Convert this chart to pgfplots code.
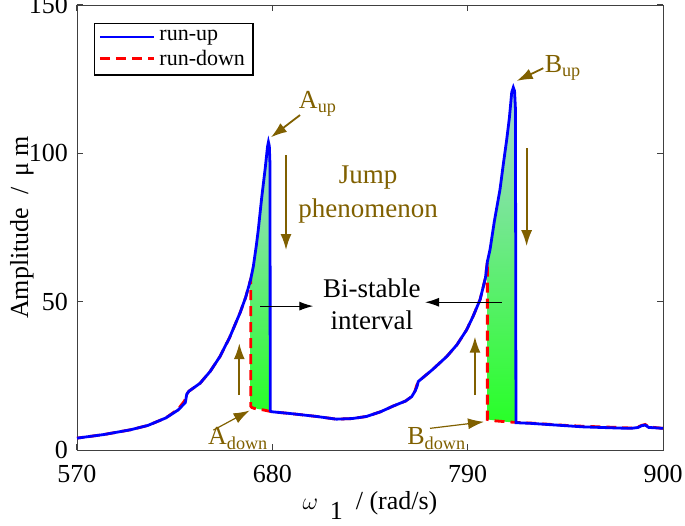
\documentclass[border=0pt]{standalone}
\usepackage{pgfplots}
\pgfplotsset{compat=1.18}
\usepackage{fontspec}
\setmainfont{Liberation Serif}
\usetikzlibrary{arrows.meta}
\definecolor{brn}{RGB}{128,96,0}
\definecolor{shtop}{RGB}{165,215,212}
\definecolor{shbot}{RGB}{40,255,40}
\begin{document}
\begin{tikzpicture}
\begin{axis}[
  scale only axis, width=293pt, height=222.5pt,
  xmin=570, xmax=900, ymin=0, ymax=150,
  xtick={570,680,790,900}, ytick={0,50,100,150},
  tick align=inside, major tick length=3pt,
  font=\fontsize{13}{15}\selectfont,
  /pgf/number format/assume math mode=true,
  axis line style={black!75}, every tick/.style={black!75, line width=0.5pt},
  xticklabel style={yshift=-4pt},
  yticklabel style={xshift=-1pt},
  xlabel={$\omega$\hspace{0.45em}\raisebox{-0.8ex}{1}\hspace{0.5em}/ (rad/s)},
  ylabel={Amplitude \ / \,μ m},
  every axis x label/.style={at={(axis description cs:0.5,-0.125)}, anchor=center},
  every axis y label/.style={at={(axis description cs:-0.094,0.5)}, rotate=90, anchor=center},
  legend style={at={(axis description cs:0.029,0.96)}, anchor=north west,
    font=\fontsize{11}{12.5}\selectfont, draw=black, line width=0.6pt,
    inner xsep=2pt, inner ysep=1.5pt, row sep=-1pt},
  legend cell align=left,
  legend image code/.code={\draw[#1] (0cm,0cm) -- (0.95cm,0cm);},
]
% shaded bi-stable regions
\addplot[draw=none, top color=shtop, bottom color=shbot, forget plot] coordinates {
 (667.8,14.6) (667.8,57.5) (669.3,61.9) (671,69) (672.1,74.3) (674,85) (676,95)
 (677.3,102.3) (677.8,103.8) (678.3,102.5) (678.7,96) (678.8,13.2) (672,13.8) (667.8,14.6)} -- cycle;
\addplot[draw=none, top color=shtop, bottom color=shbot, forget plot] coordinates {
 (801.1,10.3) (801.1,63.5) (802.6,67.6) (805,77) (808.2,87.8) (810,96) (812,104.7)
 (813.5,112) (814.8,120.5) (815.7,122.2) (816.4,121) (816.9,115) (817.2,9.2) (810,9.6) (801.1,10.3)} -- cycle;
% run-down
\addplot[red, line width=1.4pt, dash pattern=on 5pt off 3pt, forget plot] coordinates {
 (900,7.3) (895,7.6) (892,7.8) (890,8.6) (888,8.3) (886,7.8) (882,7.4) (875,7.6) (865,7.8)
 (855,8.0) (845,8.3) (835,8.7) (825,9.1) (817.2,9.3) (810,9.6) (804,9.9) (801.1,10.3)
 (801.1,63.5) (800,58) (797,50.7) (793,45) (789.4,40.5) (784,35.5) (778.2,31.5) (770,27)
 (762.2,23.1) (761.2,21.6) (760.3,19.8) (758.5,18) (755,16.5) (748,14.8) (741,12.9) (733,11.3)
 (725,10.6) (716,10.4) (705,11.3) (690,12.3) (679.6,12.9) (675,13.5) (670,14) (668.5,14.3)
 (667.8,14.8) (667.8,57.5) (665,51.5) (661.8,46.2) (656,38) (650.5,31.5) (645,26.5) (639.3,22.5)
 (633,19.8) (631.8,18.8) (630.6,16.6) (627,13.8) (620,10.8) (610,8.3) (600,6.8) (585,5.2) (570,4.0)};
% run-up
\addplot[blue, line width=1.4pt, forget plot] coordinates {
 (570,4.0) (585,5.2) (600,6.8) (610,8.3) (620,10.8) (627,13.5) (631,16.0) (631.8,18.8)
 (633,19.8) (639.3,22.5) (645,26.5) (650.5,31.5) (656,38) (661.8,46.2) (665,51.5)
 (667.8,57.5) (669.3,61.9) (671,69) (672.1,74.3) (674,85) (676,95) (677.3,102.3)
 (677.8,103.8) (678.3,102.5) (678.7,96) (678.8,13.2) (679.6,12.9) (690,12.3) (705,11.3)
 (716,10.4) (725,10.6) (733,11.3) (741,12.9) (748,14.8) (755,16.5) (758.5,18) (760.5,20)
 (761.5,21.5) (762.2,23.1) (770,27) (778.2,31.5) (784,35.5) (789.4,40.5) (793,45)
 (797,50.7) (800,58) (801.1,63.5) (802.6,67.6) (805,77) (808.2,87.8) (810,96) (812,104.7)
 (813.5,112) (814.8,120.5) (815.7,122.2) (816.4,121) (816.9,115) (817.2,9.2) (825,9.0)
 (835,8.6) (845,8.2) (855,7.8) (865,7.6) (875,7.4) (882,7.3) (886,7.6) (888,8.2)
 (890,8.4) (892,7.6) (895,7.5) (900,7.3)};
\addlegendimage{blue, line width=1.4pt}
\addlegendentry{run-up}
\addlegendimage{red, line width=1.4pt, dash pattern=on 5pt off 3pt}
\addlegendentry{run-down}
% annotations
\tikzset{barr/.style={brn, line width=0.9pt, -{Latex[length=8pt,width=5.5pt]}},
         karr/.style={black, line width=0.6pt, -{Latex[length=7pt,width=4.5pt]}}}
\node[brn] at (axis cs:705.7,116.6) {A\textsubscript{up}};
\draw[barr] (axis cs:695.6,112.9) -- (axis cs:679.2,105.4);
\node[brn] at (axis cs:843.7,128.8) {B\textsubscript{up}};
\draw[barr] (axis cs:832.6,128.7) -- (axis cs:817.6,124.4);
\node[brn, align=center, font=\fontsize{13.5}{17}\selectfont] at (axis cs:733.9,86) {Jump\\phenomenon};
\draw[barr] (axis cs:687.7,99.4) -- (axis cs:687.7,67.4);
\draw[barr] (axis cs:823.2,101.7) -- (axis cs:823.2,68.7);
\draw[barr] (axis cs:661.4,18.5) -- (axis cs:661.4,36.0);
\draw[barr] (axis cs:794.1,18.5) -- (axis cs:794.1,38.2);
\node[black, align=center, font=\fontsize{13.5}{16}\selectfont] at (axis cs:736,49.2) {Bi-stable\\interval};
\draw[karr] (axis cs:673.1,48.5) -- (axis cs:703.1,48.5);
\draw[karr] (axis cs:809.2,49.8) -- (axis cs:766,49.8);
\node[brn] at (axis cs:660.8,3.9) {A\textsubscript{down}};
\draw[barr, line width=0.6pt] (axis cs:646.8,6.7) -- (axis cs:667.2,13.3);
\node[brn] at (axis cs:772.6,3.9) {B\textsubscript{down}};
\draw[barr, line width=0.6pt] (axis cs:768.8,7.3) -- (axis cs:799.2,9.5);
\end{axis}
\pgfresetboundingbox
\path ([shift={(-38.5pt,-37.5pt)}]current axis.south west) rectangle ([shift={(11pt,2.5pt)}]current axis.north east);
\end{tikzpicture}
\end{document}
